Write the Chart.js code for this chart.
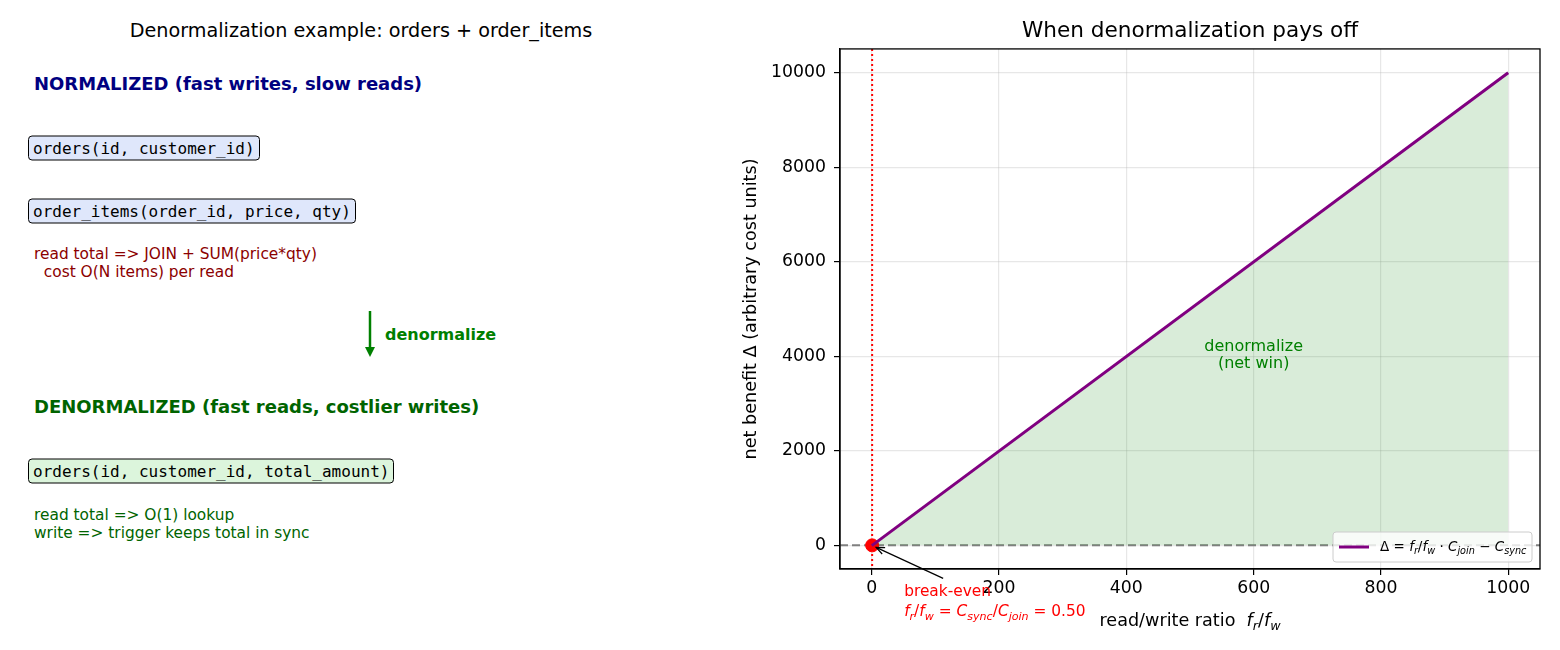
<!DOCTYPE html>
<html>
<head>
<meta charset="utf-8">
<script src="https://cdn.jsdelivr.net/npm/chart.js@4.4.1/dist/chart.umd.min.js"></script>
<style>
  body { margin: 0; background: #fff; }
  #page { position: relative; width: 1560px; height: 650px; font-family: "DejaVu Sans", sans-serif; overflow: hidden; }
  .t { position: absolute; white-space: pre; transform: translateY(-50%); line-height: 1.15; }
  .box { position: absolute; transform: translateY(-50%); font-family: "DejaVu Sans Mono", monospace; font-size: 16px;
         padding: 2px 4px; border: 1.6px solid #000; border-radius: 4px; white-space: pre; line-height: 19px; }
  #wrap { position: absolute; left: 700px; top: 0; width: 860px; height: 650px; }
</style>
</head>
<body>
<div id="page">
  <div class="t" style="left:361px;top:31px;font-size:19.2px;transform:translate(-50%,-50%)">Denormalization example: orders + order_items</div>

  <div class="t" style="left:34px;top:84px;font-size:18px;font-weight:bold;color:#000080">NORMALIZED (fast writes, slow reads)</div>
  <div class="box" style="left:28px;top:148px;background:#dfe7fb">orders(id, customer_id)</div>
  <div class="box" style="left:28px;top:211px;background:#dfe7fb">order_items(order_id, price, qty)</div>
  <div class="t" style="left:34px;top:264px;font-size:15.4px;color:#8b0000">read total =&gt; JOIN + SUM(price*qty)
  cost O(N items) per read</div>

  <svg style="position:absolute;left:360px;top:305px" width="20" height="56">
    <line x1="10" y1="6" x2="10" y2="44" stroke="#008000" stroke-width="2.5"/>
    <path d="M5,42 L10,52 L15,42 Z" fill="#008000"/>
  </svg>
  <div class="t" style="left:385px;top:335px;font-size:16px;font-weight:bold;color:#008000">denormalize</div>

  <div class="t" style="left:34px;top:407px;font-size:18px;font-weight:bold;color:#006400">DENORMALIZED (fast reads, costlier writes)</div>
  <div class="box" style="left:28px;top:471px;background:#dcf5dc">orders(id, customer_id, total_amount)</div>
  <div class="t" style="left:34px;top:525px;font-size:15.4px;color:#006400">read total =&gt; O(1) lookup
write =&gt; trigger keeps total in sync</div>

  <div id="wrap"><canvas id="myChart" width="860" height="650"></canvas></div>
</div>

<script>
// values
let ratios = [0, 1000];
let netBenefit = [-5, 9995];
let breakEvenRatio = [0.5];
let breakEvenDelta = [0];
let xTicks = [0, 200, 400, 600, 800, 1000];
let yTicks = [0, 2000, 4000, 6000, 8000, 10000];

Chart.defaults.color = '#000';
Chart.defaults.font.family = '"DejaVu Sans", sans-serif';

// draw text made of regular / italic / subscript pieces
function mathText(ctx, parts, x, y, size, color, align) {
  let fontFor = (k) => {
    if (k === 'i') return 'italic ' + size + 'px "DejaVu Sans"';
    if (k === 's') return 'italic ' + (size * 0.72).toFixed(1) + 'px "DejaVu Sans"';
    return size + 'px "DejaVu Sans"';
  };
  let total = 0;
  parts.forEach(p => { ctx.font = fontFor(p[1]); total += ctx.measureText(p[0]).width; });
  let cx = align === 'center' ? x - total / 2 : x;
  ctx.save();
  ctx.fillStyle = color;
  ctx.textBaseline = 'alphabetic';
  parts.forEach(p => {
    ctx.font = fontFor(p[1]);
    ctx.fillText(p[0], cx, p[1] === 's' ? y + size * 0.22 : y);
    cx += ctx.measureText(p[0]).width;
  });
  ctx.restore();
}

let extras = {
  id: 'extras',
  beforeDatasetDraw(chart, args) {
    if (args.index !== 1) return;
    let { ctx, chartArea: a, scales: { x, y } } = chart;
    ctx.save();
    ctx.beginPath();
    ctx.rect(a.left, a.top, a.right - a.left, a.bottom - a.top);
    ctx.clip();
    // zero line
    let y0 = y.getPixelForValue(0);
    ctx.strokeStyle = 'rgba(128,128,128,1)';
    ctx.lineWidth = 2;
    ctx.setLineDash([8, 4]);
    ctx.beginPath(); ctx.moveTo(a.left, y0); ctx.lineTo(a.right, y0); ctx.stroke();
    // break-even vertical
    let xb = x.getPixelForValue(breakEvenRatio[0]);
    ctx.strokeStyle = 'red';
    ctx.setLineDash([2, 3]);
    ctx.beginPath(); ctx.moveTo(xb, a.top); ctx.lineTo(xb, a.bottom); ctx.stroke();
    ctx.restore();
  },
  afterDraw(chart) {
    let { ctx, chartArea: a, scales: { x, y } } = chart;
    ctx.save();
    // frame
    ctx.strokeStyle = '#000';
    ctx.lineWidth = 1.3;
    ctx.strokeRect(a.left, a.top, a.right - a.left, a.bottom - a.top);

    // region label
    ctx.fillStyle = '#008000';
    ctx.font = '16px "DejaVu Sans"';
    ctx.textAlign = 'center';
    ctx.textBaseline = 'middle';
    ctx.fillText('denormalize', x.getPixelForValue(600), y.getPixelForValue(4200));
    ctx.fillText('(net win)', x.getPixelForValue(600), y.getPixelForValue(3830));

    // break-even annotation
    let px = x.getPixelForValue(breakEvenRatio[0]);
    let py = y.getPixelForValue(breakEvenDelta[0]);
    let hx = px + 4, hy = py + 2, tx = px + 71, ty = py + 33;
    ctx.strokeStyle = '#000';
    ctx.lineWidth = 1.2;
    ctx.beginPath(); ctx.moveTo(tx, ty); ctx.lineTo(hx, hy); ctx.stroke();
    let ang = Math.atan2(ty - hy, tx - hx);
    ctx.beginPath();
    ctx.moveTo(hx + 9 * Math.cos(ang - 0.4), hy + 9 * Math.sin(ang - 0.4));
    ctx.lineTo(hx, hy);
    ctx.lineTo(hx + 9 * Math.cos(ang + 0.4), hy + 9 * Math.sin(ang + 0.4));
    ctx.stroke();
    ctx.fillStyle = 'red';
    ctx.font = '15.4px "DejaVu Sans"';
    ctx.textAlign = 'left';
    ctx.textBaseline = 'alphabetic';
    ctx.fillText('break-even', px + 32, py + 51);
    mathText(ctx, [['f', 'i'], ['r', 's'], ['/', 'r'], ['f', 'i'], ['w', 's'], [' = ', 'r'], ['C', 'i'], ['sync', 's'],
      ['/', 'r'], ['C', 'i'], ['join', 's'], [' = 0.50', 'r']], px + 32, py + 71, 15.4, 'red', 'left');

    // x axis title
    mathText(ctx, [['read/write ratio  ', 'r'], ['f', 'i'], ['r', 's'], ['/', 'r'], ['f', 'i'], ['w', 's']],
      (a.left + a.right) / 2, 626, 17.6, '#000', 'center');

    // legend
    let lx = a.right - 207, ly = a.bottom - 37, lw = 199, lh = 30;
    ctx.fillStyle = 'rgba(255,255,255,0.8)';
    ctx.strokeStyle = '#cccccc';
    ctx.lineWidth = 1;
    ctx.beginPath();
    ctx.roundRect(lx, ly, lw, lh, 3);
    ctx.fill(); ctx.stroke();
    ctx.strokeStyle = '#800080';
    ctx.lineWidth = 3;
    ctx.beginPath(); ctx.moveTo(lx + 6, ly + lh / 2); ctx.lineTo(lx + 36, ly + lh / 2); ctx.stroke();
    mathText(ctx, [['Δ = ', 'r'], ['f', 'i'], ['r', 's'], ['/', 'r'], ['f', 'i'], ['w', 's'], [' · ', 'r'], ['C', 'i'],
      ['join', 's'], [' − ', 'r'], ['C', 'i'], ['sync', 's']], lx + 47, ly + lh / 2 + 4, 13.5, '#000', 'left');
    ctx.restore();
  }
};

let ctx = document.getElementById('myChart').getContext('2d');

let myChart = new Chart(ctx, {
  type: 'line',
  data: {
    datasets: [{
      label: 'delta',
      data: ratios.map((r, i) => ({ x: r, y: netBenefit[i] })),
      borderColor: '#800080',
      borderWidth: 3,
      pointRadius: 0,
      fill: { target: 'origin', above: 'rgba(0,128,0,0.15)', below: 'rgba(0,0,0,0)' }
    }, {
      label: 'break-even',
      data: breakEvenRatio.map((r, i) => ({ x: r, y: breakEvenDelta[i] })),
      showLine: false,
      pointRadius: 6.5,
      pointBackgroundColor: 'red',
      pointBorderColor: 'red'
    }]
  },
  options: {
    responsive: false,
    animation: false,
    layout: { padding: { left: 40, right: 20, top: 0, bottom: 0 } },
    scales: {
      x: {
        type: 'linear',
        min: -50,
        max: 1050,
        afterBuildTicks: (s) => { s.ticks = xTicks.map(v => ({ value: v })); },
        afterFit: (s) => { s.height = 81; },
        ticks: { font: { size: 17.3 }, padding: 3, maxRotation: 0, callback: (v) => String(v) },
        grid: { color: 'rgba(176,176,176,0.3)', lineWidth: 1.2, tickColor: '#000', tickLength: 6, tickWidth: 1.2 },
        border: { color: '#000', width: 1.3 }
      },
      y: {
        type: 'linear',
        min: -500,
        max: 10500,
        afterBuildTicks: (s) => { s.ticks = yTicks.map(v => ({ value: v })); },
        afterFit: (s) => { s.width = 100; },
        ticks: { font: { size: 17.3 }, padding: 8, callback: (v) => String(v) },
        grid: { color: 'rgba(176,176,176,0.3)', lineWidth: 1.2, tickColor: '#000', tickLength: 6, tickWidth: 1.2 },
        border: { color: '#000', width: 1.3 },
        title: { display: true, text: 'net benefit Δ (arbitrary cost units)', font: { size: 17.6 }, padding: { top: 1, bottom: 0 } }
      }
    },
    plugins: {
      legend: { display: false },
      tooltip: { enabled: false },
      title: {
        display: true,
        text: 'When denormalization pays off',
        fullSize: false,
        font: { size: 21.6, weight: 'normal' },
        color: '#000',
        padding: { top: 18, bottom: 5 }
      }
    }
  },
  plugins: [extras]
});
</script>
</body>
</html>
